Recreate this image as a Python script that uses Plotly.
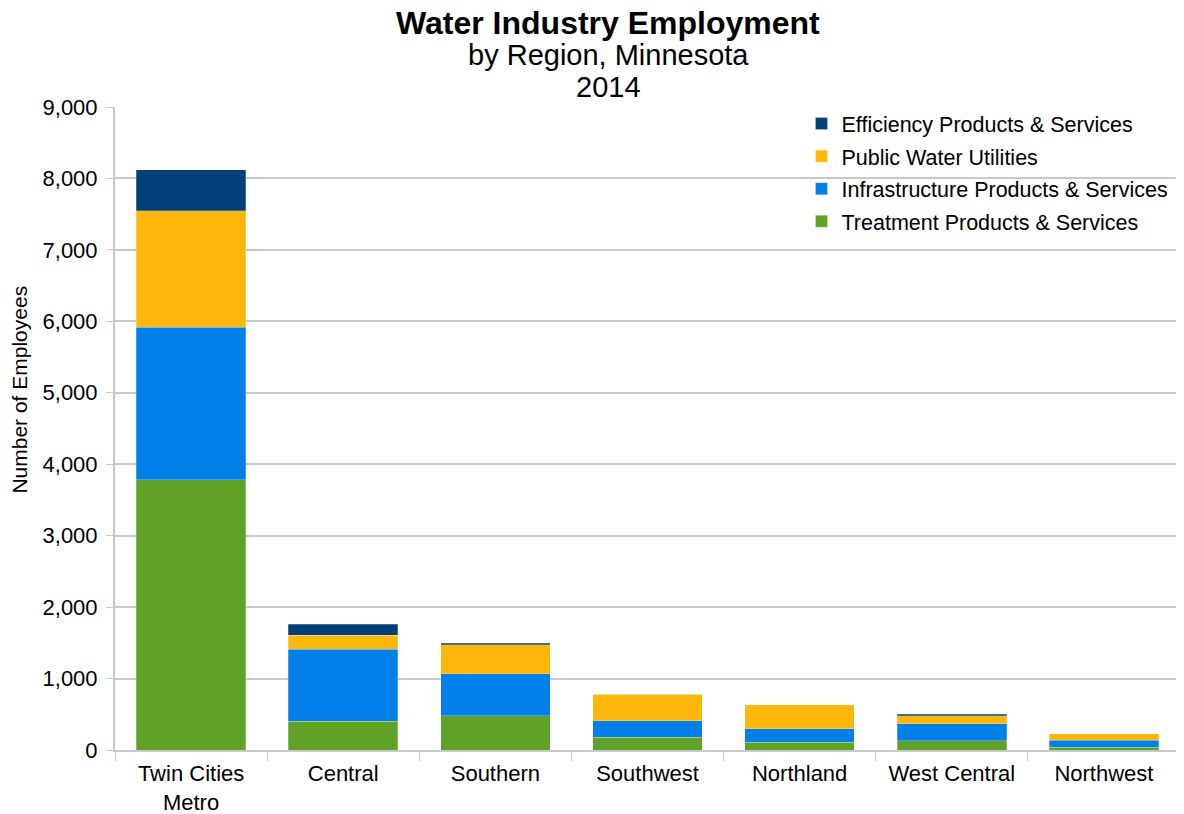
import plotly.graph_objects as go

regions = ["Twin Cities<br>Metro", "Central", "Southern", "Southwest", "Northland", "West Central", "Northwest"]
treatment = [3780, 405, 480, 180, 110, 130, 40]
infrastructure = [2140, 1005, 590, 230, 190, 240, 95]
public_utilities = [1625, 195, 400, 370, 330, 110, 90]
efficiency = [575, 155, 25, 0, 0, 20, 0]

series = [
    ("Treatment Products & Services", treatment, "#5FA227"),
    ("Infrastructure Products & Services", infrastructure, "#0080E8"),
    ("Public Water Utilities", public_utilities, "#FFB60A"),
    ("Efficiency Products & Services", efficiency, "#003F78"),
]

fig = go.Figure()
for i, (name, vals, color) in enumerate(series):
    fig.add_trace(go.Bar(x=regions, y=vals, name=name, legendgroup=name,
                         legendrank=len(series) - i, marker_color=color,
                         marker_line_color="rgba(255,255,255,0.5)", marker_line_width=0.5))

font = "Liberation Sans, Arial, sans-serif"
# page has an 8px body margin, so margins are shifted to compensate
fig.update_layout(
    barmode="stack",
    bargap=0.28,
    width=1184, height=814,
    margin=dict(l=107, r=12, t=99, b=72),
    paper_bgcolor="white", plot_bgcolor="white",
    font=dict(family=font, size=22, color="black"),
    showlegend=True,
    legend=dict(traceorder="grouped", tracegroupgap=1.6, x=0.6446, y=1.006,
                xanchor="left", yanchor="top",
                font=dict(size=21.5), bgcolor="rgba(255,255,255,0)", itemwidth=30),
)
fig.update_yaxes(range=[0, 9000], dtick=1000, tickformat=",", showgrid=True,
                 gridcolor="#C8C8C8", gridwidth=1.5, showline=True, linecolor="#C8C8C8",
                 linewidth=2, ticks="outside", ticklen=7, tickcolor="#C8C8C8",
                 ticklabelstandoff=4, tickfont=dict(size=22), zeroline=False,
                 automargin=False)
fig.update_xaxes(showline=True, linecolor="#C8C8C8", linewidth=2, ticks="outside",
                 tickson="boundaries", ticklen=9, tickcolor="#C8C8C8",
                 ticklabelstandoff=3, tickfont=dict(size=22), automargin=False)

fig.add_annotation(text="Number of Employees", xref="paper", yref="paper", x=-0.0895, y=0.56,
                   textangle=-90, xanchor="center", yanchor="middle", showarrow=False,
                   font=dict(size=21, family=font, color="black"))

titles = [("<b>Water Industry Employment</b>", 32, 1.131),
          ("by Region, Minnesota", 29, 1.081),
          ("2014", 29, 1.031)]
for text, size, y in titles:
    fig.add_annotation(text=text, xref="paper", yref="paper", x=0.463, y=y,
                       xanchor="center", yanchor="middle", showarrow=False,
                       font=dict(size=size, family=font, color="black"))

fig.write_html("out.html")
